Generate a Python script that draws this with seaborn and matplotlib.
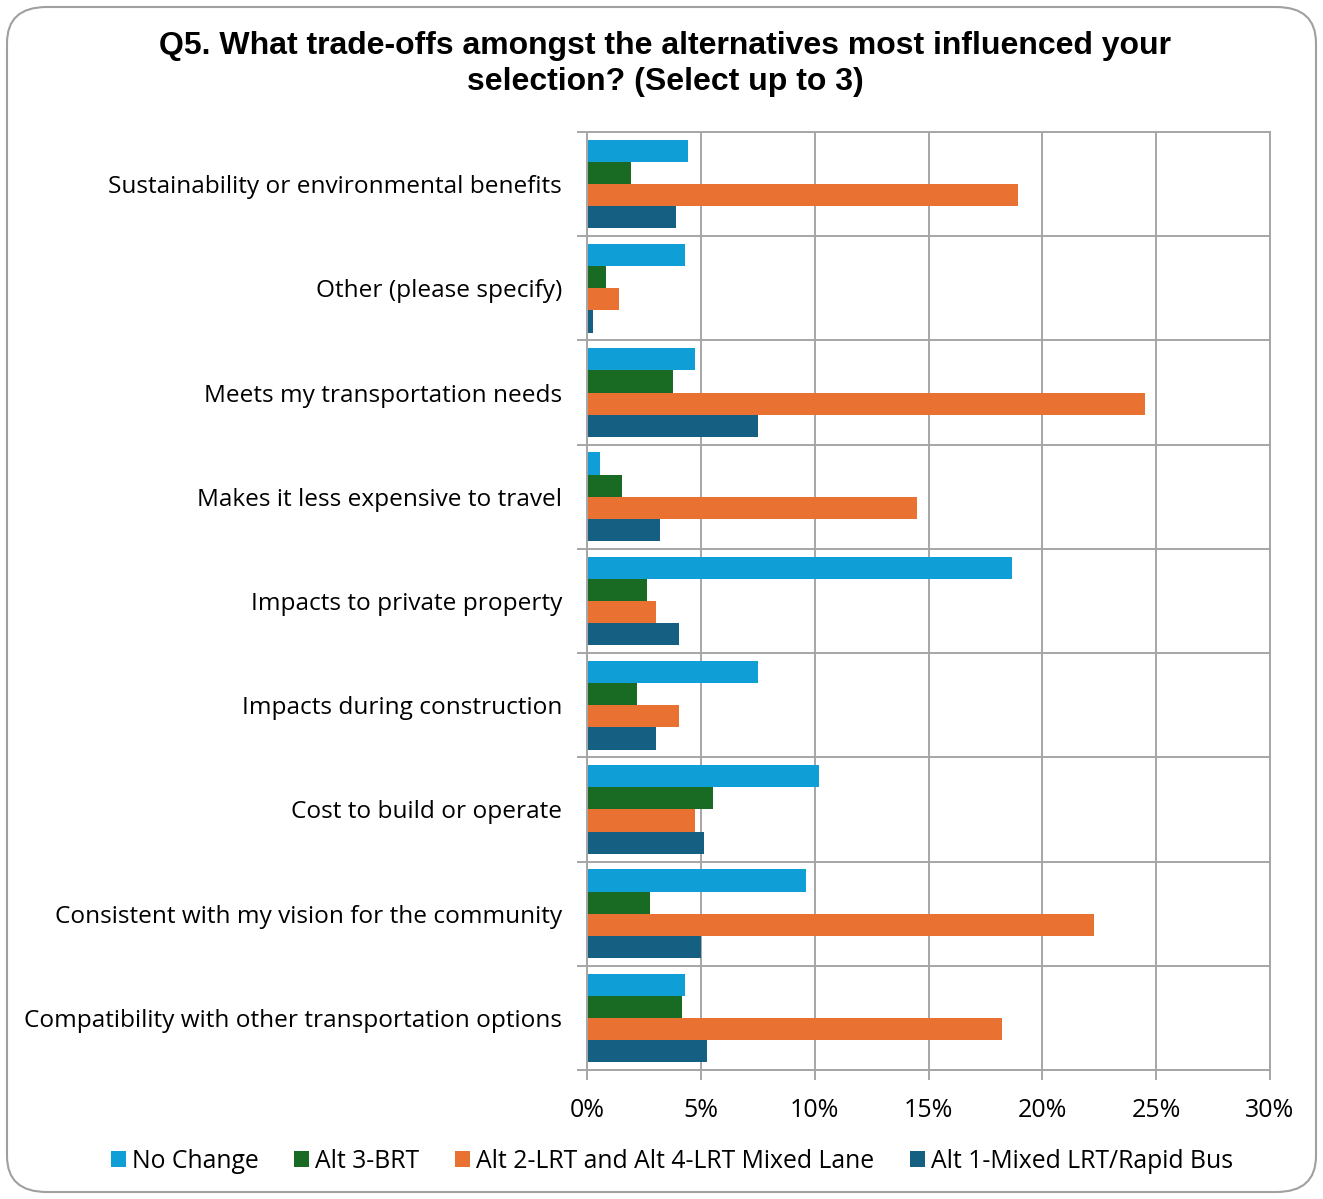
import matplotlib
matplotlib.use("Agg")
import matplotlib.pyplot as plt
from matplotlib.patches import FancyBboxPatch
from matplotlib.ticker import FixedLocator, PercentFormatter
import seaborn as sns
import pandas as pd

categories = [
    "Sustainability or environmental benefits",
    "Other (please specify)",
    "Meets my transportation needs",
    "Makes it less expensive to travel",
    "Impacts to private property",
    "Impacts during construction",
    "Cost to build or operate",
    "Consistent with my vision for the community",
    "Compatibility with other transportation options",
]
series = [
    "No Change",
    "Alt 3-BRT",
    "Alt 2-LRT and Alt 4-LRT Mixed Lane",
    "Alt 1-Mixed LRT/Rapid Bus",
]
no_change = [4.44, 4.30, 4.74, 0.57, 18.66, 7.50, 10.19, 9.62, 4.30]
alt3_brt = [1.93, 0.83, 3.78, 1.54, 2.63, 2.20, 5.53, 2.77, 4.17]
alt2_alt4_lrt = [18.93, 1.40, 24.50, 14.50, 3.03, 4.04, 4.74, 22.27, 18.23]
alt1_mixed = [3.90, 0.26, 7.50, 3.20, 4.04, 3.03, 5.14, 5.00, 5.27]
colors = ["#0F9ED5", "#196B24", "#E97132", "#156082"]
x_ticks = [0, 5, 10, 15, 20, 25, 30]

rows = []
for name, vals in zip(series, [no_change, alt3_brt, alt2_alt4_lrt, alt1_mixed]):
    for cat, v in zip(categories, vals):
        rows.append({"category": cat, "series": name, "value": v})
df = pd.DataFrame(rows)

sns.set_theme(style="white")
plt.rcParams["font.family"] = ["Open Sans", "DejaVu Sans"]
plt.rcParams["text.color"] = "black"
plt.rcParams["xtick.labelcolor"] = "black"
plt.rcParams["ytick.labelcolor"] = "black"

fig = plt.figure(figsize=(13.23, 11.99), dpi=100)
ax = fig.add_axes([587 / 1323, 1 - 1070 / 1199, (1270 - 587) / 1323, (1070 - 132) / 1199])

sns.barplot(
    data=df, y="category", x="value", hue="series",
    order=categories, hue_order=series, palette=colors,
    orient="h", width=0.85, gap=0, ax=ax, saturation=1,
    edgecolor="none", legend=True,
)

grid_col = "#A6A6A6"
ax.set_xlim(0, 30)
ax.set_ylim(len(categories) - 0.5, -0.5)
ax.xaxis.set_major_locator(FixedLocator(x_ticks))
ax.xaxis.set_major_formatter(PercentFormatter(decimals=0))
ax.yaxis.set_minor_locator(FixedLocator([i - 0.5 for i in range(len(categories) + 1)]))
ax.grid(axis="x", which="major", color=grid_col, linewidth=1.4)
ax.grid(axis="y", which="minor", color=grid_col, linewidth=1.4)
ax.set_axisbelow(True)
for s in ax.spines.values():
    s.set_color(grid_col)
    s.set_linewidth(1.4)
ax.tick_params(axis="x", which="major", length=7, width=1.4, color=grid_col,
               labelsize=18, pad=13, bottom=True, labelcolor="black")
ax.tick_params(axis="y", which="major", length=0, labelsize=17.6, pad=18, labelcolor="black")
ax.tick_params(axis="y", which="minor", length=7, width=1.4, color=grid_col, left=True)
ax.set_xlabel("")
ax.set_ylabel("")

handles, labels = ax.get_legend_handles_labels()
ax.legend_.remove()
fig.legend(handles, labels, loc="center", bbox_to_anchor=(0.508, 1 - 1161 / 1199),
           ncol=4, frameon=False, fontsize=17.8, handlelength=0.6, handleheight=0.6,
           handletextpad=0.25, columnspacing=1.45, labelcolor="black")

fig.text(0.503, 1 - 64 / 1199,
         "Q5. What trade-offs amongst the alternatives most influenced your\nselection? (Select up to 3)",
         ha="center", va="center", fontsize=23, fontweight="bold", color="black",
         family=["Liberation Sans", "DejaVu Sans"], linespacing=1.25)

frame = FancyBboxPatch((7 / 1323, 7 / 1199), 1309 / 1323, 1185 / 1199,
                       boxstyle="round,pad=0,rounding_size=0.03",
                       transform=fig.transFigure, facecolor="none",
                       edgecolor="#A0A0A0", linewidth=1.5, zorder=-1)
fig.patches.append(frame)

fig.savefig("out.png", dpi=100, facecolor="white")
